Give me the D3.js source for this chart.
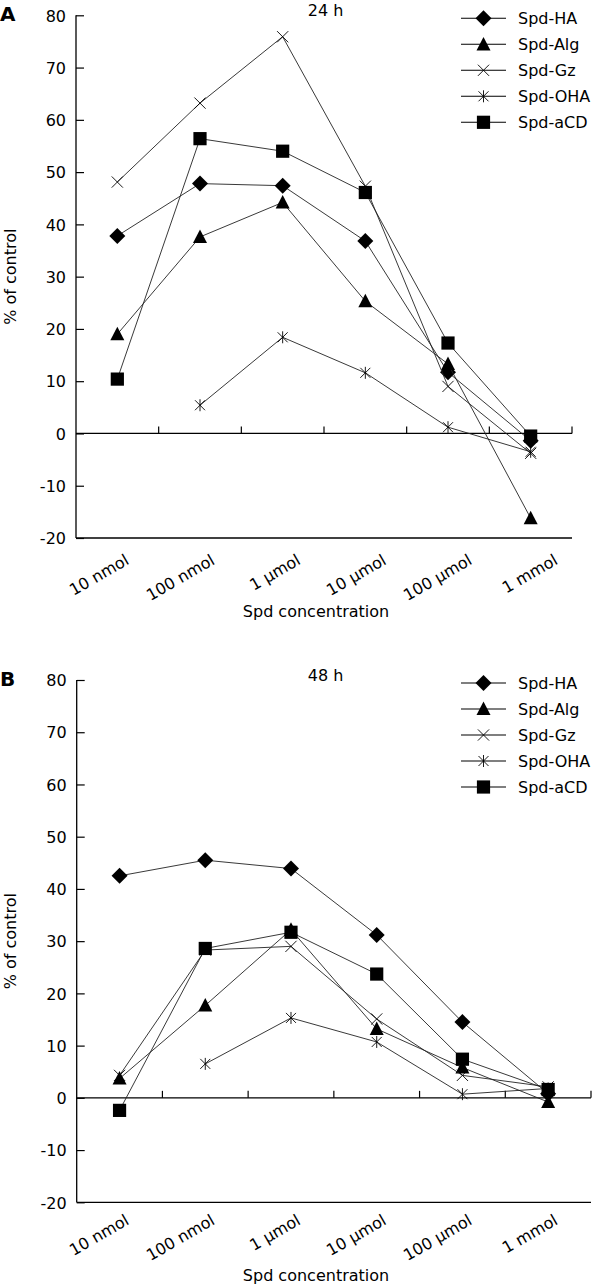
<!DOCTYPE html>
<html>
<head>
<meta charset="utf-8">
<script src="https://cdn.jsdelivr.net/npm/d3@7"></script>
<style>
  html, body { margin: 0; padding: 0; background: #fff; }
  svg { display: block; font-family: "DejaVu Sans", Verdana, sans-serif; }
</style>
</head>
<body>
<svg id="chart" width="595" height="1288"></svg>
<script>
// ---------- data ----------
const categories = ["10 nmol", "100 nmol", "1 \u03bcmol", "10 \u03bcmol", "100 \u03bcmol", "1 mmol"];
const seriesNames = ["Spd-HA", "Spd-Alg", "Spd-Gz", "Spd-OHA", "Spd-aCD"];
const yTicks = [80, 70, 60, 50, 40, 30, 20, 10, 0, -10, -20];

// Panel A: 24 h
const ha24  = [37.8, 47.8, 47.4, 36.8, 11.7, -1.4];
const alg24 = [19.0, 37.6, 44.2, 25.3, 13.3, -16.2];
const gz24  = [48.1, 63.2, 75.9, 47.3, 9.0, -3.8];
const oha24 = [null, 5.4, 18.4, 11.6, 1.2, -3.5];
const acd24 = [10.4, 56.4, 54.0, 46.1, 17.3, -0.5];

// Panel B: 48 h
const ha48  = [42.5, 45.5, 43.9, 31.2, 14.5, 0.8];
const alg48 = [3.7, 17.7, 32.2, 13.2, 5.8, -0.8];
const gz48  = [4.3, 28.3, 29.0, 15.1, 4.3, 2.1];
const oha48 = [null, 6.5, 15.3, 10.7, 0.7, 1.8];
const acd48 = [-2.4, 28.6, 31.7, 23.7, 7.4, 1.6];

const panels = [
  { letter: "A", title: "24 h", series: [ha24, alg24, gz24, oha24, acd24],
    x0: 76, x1: 572, yTop: 15.3, yBot: 538, labelDy: 25.4, axisLabelY: 617 },
  { letter: "B", title: "48 h", series: [ha48, alg48, gz48, oha48, acd48],
    x0: 76.7, x1: 591, yTop: 680, yBot: 1202.3, labelDy: 21.2, axisLabelY: 1281 }
];

// ---------- marker shapes ----------
const markerTypes = ["diamond", "triangle", "x", "asterisk", "square"];
function drawMarker(g, type, cx, cy) {
  if (type === "diamond") {
    const r = 8;
    g.append("path").attr("d", `M${cx},${cy - r}L${cx + r},${cy}L${cx},${cy + r}L${cx - r},${cy}Z`).attr("fill", "#000");
  } else if (type === "square") {
    const h = 6.6;
    g.append("rect").attr("x", cx - h).attr("y", cy - h).attr("width", 2 * h).attr("height", 2 * h).attr("fill", "#000");
  } else if (type === "triangle") {
    const w = 7, ht = 13.5;
    g.append("path").attr("d", `M${cx},${cy - ht * 0.55}L${cx + w},${cy + ht * 0.45}L${cx - w},${cy + ht * 0.45}Z`).attr("fill", "#000");
  } else if (type === "x") {
    const r = 5.6;
    g.append("path").attr("d", `M${cx - r},${cy - r}L${cx + r},${cy + r}M${cx - r},${cy + r}L${cx + r},${cy - r}`)
      .attr("stroke", "#000").attr("stroke-width", 0.9).attr("fill", "none");
  } else if (type === "asterisk") {
    const r = 5, v = 6;
    g.append("path").attr("d", `M${cx - r},${cy - r}L${cx + r},${cy + r}M${cx - r},${cy + r}L${cx + r},${cy - r}M${cx},${cy - v}L${cx},${cy + v}`)
      .attr("stroke", "#000").attr("stroke-width", 0.9).attr("fill", "none");
  }
}

const svg = d3.select("#chart");

// label positions are shared by both panels (they follow panel B's spacing)
const labelScale = d3.scaleBand().domain(categories).range([panels[1].x0, panels[1].x1]).padding(0);

panels.forEach(p => {
  const g = svg.append("g");
  const x = d3.scaleBand().domain(categories).range([p.x0, p.x1]).padding(0);
  const y = d3.scaleLinear().domain([-20, 80]).range([p.yBot, p.yTop]);
  const cx = c => x(c) + x.bandwidth() / 2;

  // y axis
  const yAxis = d3.axisLeft(y).tickValues(yTicks).tickSize(-8).tickPadding(0).tickFormat(d => String(d));
  const ya = g.append("g").attr("transform", `translate(${p.x0},0)`).call(yAxis);
  ya.select(".domain").attr("stroke", "#000").attr("stroke-width", 1.3).attr("d", `M0,${p.yTop}V${p.yBot}`);
  ya.selectAll(".tick line").attr("stroke", "#000").attr("stroke-width", 1.2);
  ya.selectAll(".tick text").attr("x", -10).attr("dy", "0.36em").attr("font-size", 16).attr("fill", "#000")
    .attr("font-family", "DejaVu Sans, sans-serif");

  // bottom frame line at -20
  g.append("line").attr("x1", p.x0).attr("x2", p.x1).attr("y1", y(-20)).attr("y2", y(-20))
    .attr("stroke", "#000").attr("stroke-width", 1.3);

  // x axis at 0 with boundary ticks pointing up
  const boundaries = categories.map(c => x(c) + x.bandwidth());
  const xa = g.append("g");
  xa.append("line").attr("x1", p.x0).attr("x2", p.x1).attr("y1", y(0)).attr("y2", y(0))
    .attr("stroke", "#000").attr("stroke-width", 1.3);
  xa.selectAll("line.bt").data(boundaries).join("line").attr("class", "bt")
    .attr("x1", d => d).attr("x2", d => d).attr("y1", y(0)).attr("y2", y(0) - 7)
    .attr("stroke", "#000").attr("stroke-width", 1.2);

  // category labels (rotated)
  g.selectAll("text.cat").data(categories).join("text").attr("class", "cat")
    .attr("text-anchor", "end").attr("font-size", 16).attr("fill", "#000")
    .attr("transform", c => `translate(${labelScale(c) + labelScale.bandwidth() / 2 + 10.6},${p.yBot + p.labelDy}) rotate(-30)`)
    .text(c => c);

  // axis titles
  g.append("text").attr("x", 316).attr("y", p.axisLabelY).attr("text-anchor", "middle")
    .attr("font-size", 16).attr("fill", "#000").text("Spd concentration");
  g.append("text").attr("transform", `translate(16,${(p.yTop + p.yBot) / 2}) rotate(-90)`)
    .attr("text-anchor", "middle").attr("font-size", 16).attr("fill", "#000").text("% of control");

  // panel letter and title
  g.append("text").attr("x", 0).attr("y", p.yTop + 6).attr("font-size", 20).attr("font-weight", "bold")
    .attr("fill", "#000").text(p.letter);
  g.append("text").attr("x", 325.5).attr("y", p.yTop + 1).attr("text-anchor", "middle")
    .attr("font-size", 16).attr("fill", "#000").text(p.title);

  // series
  const line = d3.line().defined(d => d.v !== null).x(d => cx(d.c)).y(d => y(d.v));
  p.series.forEach((vals, si) => {
    const pts = vals.map((v, i) => ({ c: categories[i], v }));
    const sg = g.append("g");
    sg.append("path").datum(pts).attr("d", line).attr("fill", "none")
      .attr("stroke", "#222").attr("stroke-width", 0.9);
    pts.filter(d => d.v !== null).forEach(d => drawMarker(sg, markerTypes[si], cx(d.c), y(d.v)));
  });

  // legend
  const lg = g.append("g");
  seriesNames.forEach((name, i) => {
    const ly = p.yTop + 3 + i * 26;
    lg.append("line").attr("x1", 461).attr("x2", 506).attr("y1", ly).attr("y2", ly)
      .attr("stroke", "#000").attr("stroke-width", 1.1);
    drawMarker(lg, markerTypes[i], 483.5, ly);
    lg.append("text").attr("x", 518).attr("y", ly).attr("dy", "0.36em").attr("font-size", 16)
      .attr("fill", "#000").text(name);
  });
});
</script>
</body>
</html>
